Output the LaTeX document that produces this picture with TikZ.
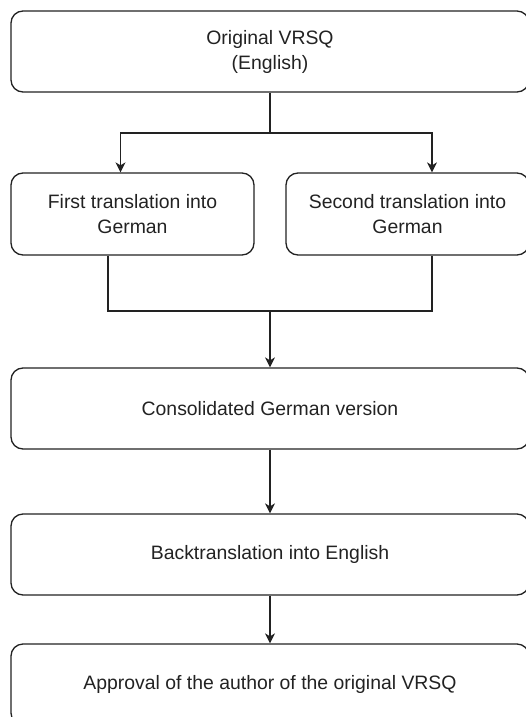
\documentclass[tikz,border=0pt]{standalone}
\usepackage{fontspec}
\setmainfont{Liberation Sans}
\usetikzlibrary{arrows.meta}
\definecolor{ink}{HTML}{222222}

\begin{document}
\begin{tikzpicture}
[ x=1pt, y=-1pt
, every node/.style={font=\fontsize{19.4}{25}\selectfont, text=ink, align=center}
, stage/.style={rectangle, draw=ink, line width=1.3pt, rounded corners=12pt, inner sep=0pt}
, wide/.style={stage, minimum width=518pt, minimum height=81pt}
, half/.style={stage, minimum width=243pt, minimum height=82pt}
, point/.style={coordinate}
, flow/.style={draw=ink, line width=1.3pt, -{Stealth[length=10pt, width=10pt, inset=3pt]}}
, link/.style={draw=ink, line width=1.3pt}
]
\useasboundingbox (0,0) rectangle (526,717);
\clip (0,0) rectangle (526,717);
% Source and the two translations:
\node (orig) [wide] at (270,51.5) {Original VRSQ\\(English)};
\node (first) [half] at (132.5,214) {First translation into\\German};
\node (second) [half] at (407.5,214) {Second translation into\\German};
% Later stages:
\node (consol) [wide] at (270,408.5) {Consolidated German version};
\node (back) [wide] at (270,554.5) {Backtranslation into English};
\node (approve) [wide] at (270,684.5) {Approval of the author of the original VRSQ};
% Branch and merge points:
\node (split) [point] at (270,133) {};
\node (merge) [point] at (270,311) {};
\draw [link] (orig.south) -- (split);
\draw [flow] (split) -| ([xshift=-12pt]first.north);
\draw [flow] (split) -| ([xshift=24.5pt]second.north);
\draw [link] ([xshift=-24.5pt]first.south) |- (merge);
\draw [link] ([xshift=24.5pt]second.south) |- (merge);
\draw [flow] (merge) -- (consol.north);
\draw [flow] (consol) -- (back);
\draw [flow] (back) -- (approve);
\end{tikzpicture}
\end{document}
